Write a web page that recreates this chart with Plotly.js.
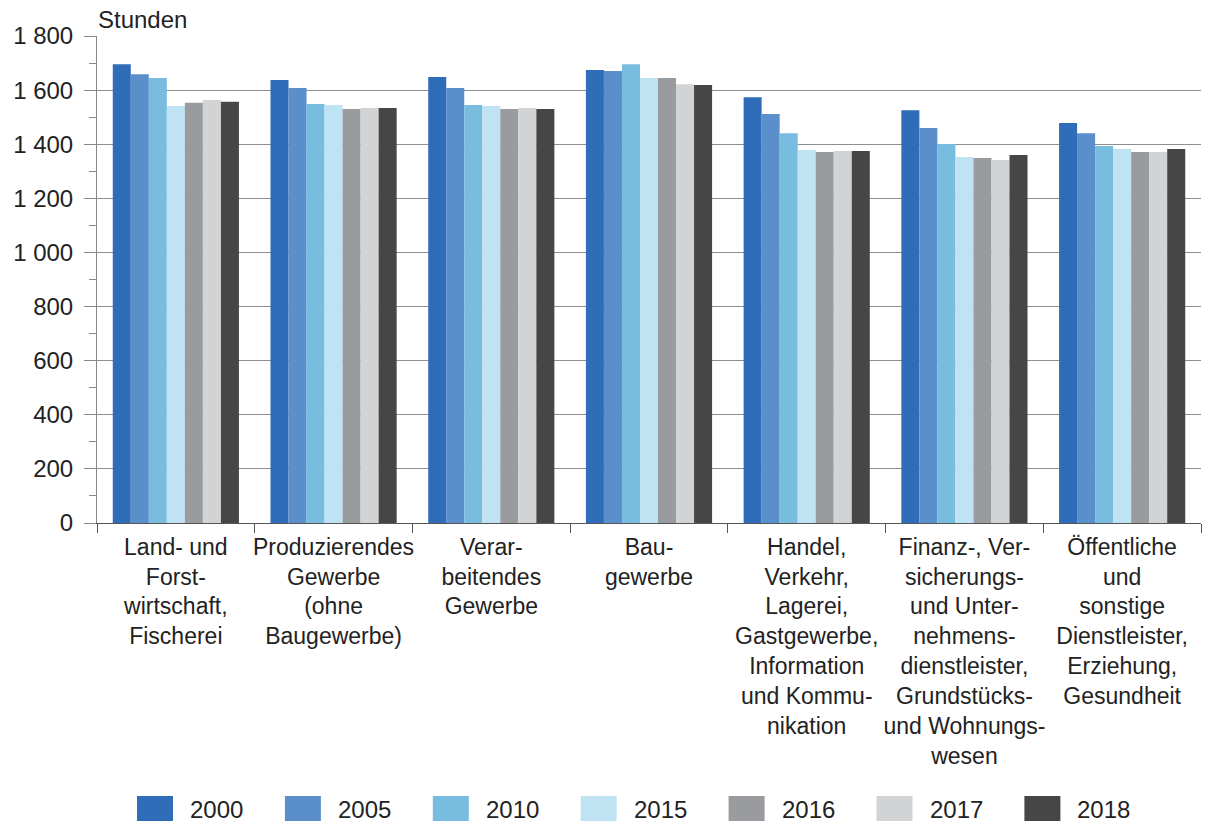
<!DOCTYPE html>
<html>
<head>
<meta charset="utf-8">
<script src="https://cdn.plot.ly/plotly-3.0.1.min.js"></script>
<style>html,body{margin:0;padding:0;background:#fff;}#chart{width:1207px;height:827px;}</style>
</head>
<body>
<div id="chart"></div>
<script>
const categories = [
  "Land- und<br>Forst-<br>wirtschaft,<br>Fischerei",
  "Produzierendes<br>Gewerbe<br>(ohne<br>Baugewerbe)",
  "Verar-<br>beitendes<br>Gewerbe",
  "Bau-<br>gewerbe",
  "Handel,<br>Verkehr,<br>Lagerei,<br>Gastgewerbe,<br>Information<br>und Kommu-<br>nikation",
  "Finanz-, Ver-<br>sicherungs-<br>und Unter-<br>nehmens-<br>dienstleister,<br>Grundstücks-<br>und Wohnungs-<br>wesen",
  "Öffentliche<br>und<br>sonstige<br>Dienstleister,<br>Erziehung,<br>Gesundheit"
];
const years = ["2000", "2005", "2010", "2015", "2016", "2017", "2018"];
const v2000 = [1696, 1637, 1648, 1674, 1574, 1526, 1478];
const v2005 = [1659, 1608, 1608, 1671, 1512, 1460, 1441];
const v2010 = [1645, 1549, 1545, 1696, 1441, 1401, 1393];
const v2015 = [1541, 1545, 1541, 1645, 1379, 1353, 1382];
const v2016 = [1553, 1530, 1530, 1645, 1371, 1349, 1371];
const v2017 = [1563, 1534, 1534, 1622, 1375, 1342, 1371];
const v2018 = [1557, 1534, 1530, 1619, 1375, 1360, 1382];
const seriesValues = [v2000, v2005, v2010, v2015, v2016, v2017, v2018];
const colors = ["#2f6db8", "#5a8fcb", "#78bde0", "#bfe3f3", "#9a9b9f", "#d2d3d5", "#464646"];

const traces = years.map((y, i) => ({
  type: "bar",
  name: y,
  x: categories,
  y: seriesValues[i],
  marker: {color: colors[i], line: {width: 0}},
  showlegend: false,
  hoverinfo: "x+y+name"
}));

// plot area geometry (pixels) used to place the custom legend below the chart
const W = 1207, H = 827, ML = 97, MR = 6, MT = 36, MB = 304;
const pw = W - ML - MR, ph = H - MT - MB;
const px2x = px => (px - ML) / pw;
const py2y = py => (H - MB - py) / ph;

const shapes = [];
const annotations = [{
  text: "Stunden", xref: "paper", yref: "paper", x: 0, y: 1, xanchor: "left", yanchor: "bottom",
  xshift: -1, yshift: 1, showarrow: false, font: {size: 24, color: "#222"}
}];
years.forEach((y, i) => {
  const x0 = 137 + i * 147.9;
  shapes.push({type: "rect", xref: "paper", yref: "paper",
    x0: px2x(x0), x1: px2x(x0 + 36), y0: py2y(821), y1: py2y(796),
    fillcolor: colors[i], line: {width: 0}});
  annotations.push({text: y, xref: "paper", yref: "paper", x: px2x(x0 + 51), y: py2y(809),
    xanchor: "left", yanchor: "middle", showarrow: false, font: {size: 24, color: "#222"}});
});

const layout = {
  width: W, height: H,
  margin: {l: ML, r: MR, t: MT, b: MB},
  paper_bgcolor: "#fff", plot_bgcolor: "#fff",
  separators: ", ",
  font: {family: "Liberation Sans, Arial, sans-serif", size: 24, color: "#222"},
  barmode: "group",
  bargap: 0.2,
  bargroupgap: 0,
  showlegend: false,
  xaxis: {
    type: "category",
    tickangle: 0,
    showline: true, linecolor: "#555", linewidth: 1,
    ticks: "outside", tickson: "boundaries", ticklen: 9, tickcolor: "#555",
    ticklabelstandoff: 3,
    showgrid: false,
    tickfont: {size: 23, color: "#222"},
    automargin: false
  },
  yaxis: {
    range: [0, 1800],
    dtick: 200, tick0: 0,
    tickformat: ",d",
    showline: true, linecolor: "#888", linewidth: 1,
    ticks: "outside", ticklen: 12, tickcolor: "#888",
    ticklabelstandoff: 6,
    showgrid: true, gridcolor: "#8e8e8e", gridwidth: 1,
    zeroline: false,
    minor: {dtick: 100, ticks: "outside", ticklen: 7, tickcolor: "#888", showgrid: false},
    tickfont: {size: 24, color: "#222"},
    automargin: false
  },
  shapes: shapes,
  annotations: annotations
};

Plotly.newPlot("chart", traces, layout, {displayModeBar: false, staticPlot: true});
</script>
</body>
</html>
